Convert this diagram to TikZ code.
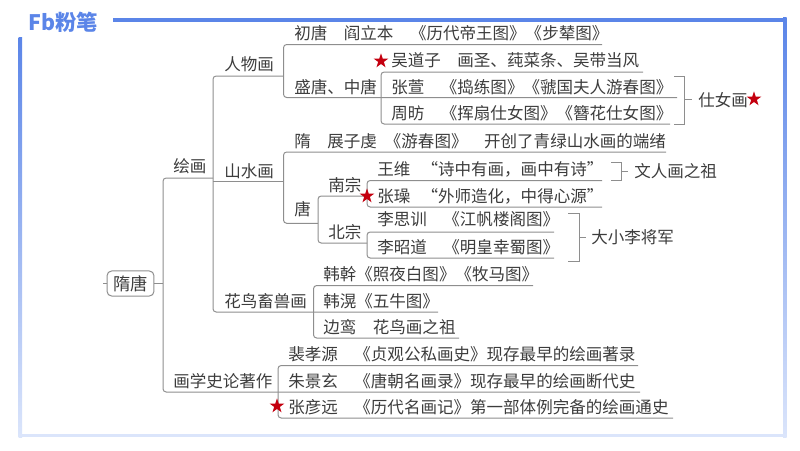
\documentclass[tikz,border=0pt]{standalone}
\usepackage{fontspec}
\setmainfont{Noto Sans CJK SC}
\usetikzlibrary{calc, shapes.geometric}
\definecolor{framecol}{HTML}{5B85E8}
\definecolor{framepale}{HTML}{DBE5FB}
\definecolor{linecol}{HTML}{8E8E8E}
\definecolor{textcol}{HTML}{3C3C3C}
\definecolor{starcol}{HTML}{C4000F}
\tikzset{
  branchline/.style={draw=linecol, line width=0.75pt, rounded corners=2.4pt},
  bracketline/.style={draw=linecol, line width=0.65pt},
  mapword/.style={anchor=west, inner sep=0pt, text=textcol, font=\fontsize{12.4}{12.4}\selectfont, text height=10.9pt, text depth=1.5pt},
  rootbox/.style={draw=linecol, line width=0.75pt, rounded corners=3.5pt, inner sep=0pt, text=textcol, font=\fontsize{13}{13}\selectfont, minimum width=35.2pt, minimum height=18.8pt},
  redstar/.style={star, star points=5, star point ratio=2.6, fill=starcol, inner sep=0pt, minimum size=11.6pt}
}
\newcommand{\spine}[3]{%
  \draw[branchline] (#1) -| (#2) -- (#3);
}
\newcommand{\widecomma}{\char"FF0C\relax}
\begin{document}
\begin{tikzpicture}[x=0.75pt, y=-0.75pt]
            \useasboundingbox (0,0) rectangle (800,450);
            % frame
            \fill[framecol] (113,17.5) rectangle (786,21.5);
            \fill[top color=framecol, bottom color=framepale] (18.5,37) rectangle (22,437);
            \fill[top color=framecol, bottom color=framepale] (783,17.5) rectangle (786.5,437);
            \fill[framepale] (18.5,433.5) rectangle (786.5,437);
            \node[anchor=west, inner sep=0pt, text=framecol, font=\fontsize{16}{16}\selectfont\bfseries] (logo) at (28,22) {Fb粉笔};

            \coordinate (trunkTop) at (213,178);
            \coordinate (trunkCorner) at (163,392);
            \coordinate (trunkEnd) at (640,392);
            \coordinate (paintTop) at (283.5,76);
            \coordinate (paintCorner) at (213,312);
            \coordinate (paintEnd) at (438,312);
            \coordinate (hillStart) at (213,181.5);
            \coordinate (hillEnd) at (283.5,181.5);

            \coordinate (figTop) at (602,44.5);
            \coordinate (figCorner) at (283.5,97.5);
            \coordinate (figEnd) at (677,97.5);
            \coordinate (wuTop) at (643,72);
            \coordinate (wuCorner) at (381,124);
            \coordinate (wuEnd) at (670,124);

            \coordinate (hillTop) at (666,152);
            \coordinate (hillCorner) at (283.5,223.3);
            \coordinate (hillOut) at (318,223.3);
            \coordinate (tangTop) at (367,196);
            \coordinate (tangCorner) at (318,243);
            \coordinate (tangEnd) at (367,243);
            \coordinate (southTop) at (602,180.5);
            \coordinate (southCorner) at (367,207);
            \coordinate (southEnd) at (602,207);
            \coordinate (northTop) at (554,232);
            \coordinate (northCorner) at (367,258);
            \coordinate (northEnd) at (554,258);

            \coordinate (birdTop) at (533,285.5);
            \coordinate (birdCorner) at (313.5,338);
            \coordinate (birdEnd) at (459,338);
            \coordinate (bookTop) at (638,365.5);
            \coordinate (bookCorner) at (278,418);
            \coordinate (bookEnd) at (673,418);

            \spine{trunkTop}{trunkCorner}{trunkEnd}
            \spine{paintTop}{paintCorner}{paintEnd}
            \draw[branchline] (hillStart) -- (hillEnd);
            \spine{figTop}{figCorner}{figEnd}
            \spine{wuTop}{wuCorner}{wuEnd}
            \spine{hillTop}{hillCorner}{hillOut}
            \spine{tangTop}{tangCorner}{tangEnd}
            \spine{southTop}{southCorner}{southEnd}
            \spine{northTop}{northCorner}{northEnd}
            \spine{birdTop}{birdCorner}{birdEnd}
            \spine{bookTop}{bookCorner}{bookEnd}

            % brackets
            \coordinate (ladyA) at (674,76);
            \coordinate (ladyB) at (684,124);
            \coordinate (ladyC) at (674,124);
            \coordinate (ladyD) at (684,99.5);
            \coordinate (ladyE) at (692,99.5);
            \coordinate (poetA) at (611,162);
            \coordinate (poetB) at (621.5,180);
            \coordinate (poetC) at (611,180);
            \coordinate (poetD) at (621.5,171);
            \coordinate (poetE) at (628,171);
            \coordinate (liA) at (568,213);
            \coordinate (liB) at (579,261);
            \coordinate (liC) at (568,261);
            \coordinate (liD) at (579,237);
            \coordinate (liE) at (586,237);
            \draw[bracketline] (ladyA) -| (ladyB) -- (ladyC);
            \draw[bracketline] (ladyD) -- (ladyE);
            \draw[bracketline] (poetA) -| (poetB) -- (poetC);
            \draw[bracketline] (poetD) -- (poetE);
            \draw[bracketline] (liA) -| (liB) -- (liC);
            \draw[bracketline] (liD) -- (liE);

            \node[rootbox, fill=white] (root) at (130.5,283.5) {隋唐};
            \coordinate (rootIn) at (103,283.5);
            \coordinate (rootOut) at (163,283.5);
            \draw[branchline] (rootIn) -- (root);
            \draw[branchline] (root) -- (rootOut);

            \node[mapword] (huihua) at (173,166) {绘画};
            \node[mapword] (renwu) at (224,64) {人物画};
            \node[mapword] (shanshui) at (224,171) {山水画};
            \node[mapword] (huaniao) at (224,301) {花鸟畜兽画};
            \node[mapword] (zhuzuo) at (173,381) {画学史论著作};

            \node[mapword] (chutang) at (294,33) {初唐　阎立本　《历代帝王图》《步辇图》};
            \node[mapword] (shengtang) at (294,87) {盛唐、中唐};
            \node[mapword] (wudaozi) at (391,60) {吴道子　画圣、莼菜条、吴带当风};
            \node[mapword] (zhangxuan) at (391,87) {张萱　《捣练图》《虢国夫人游春图》};
            \node[mapword] (zhoufang) at (391,113) {周昉　《挥扇仕女图》《簪花仕女图》};
            \node[mapword] (shinv) at (698,100) {仕女画};

            \node[mapword] (sui) at (294,141) {隋　展子虔\hspace{6pt}《游春图》　开创了青绿山水画的端绪};
            \node[mapword] (tang) at (294,209) {唐};
            \node[mapword] (nanzong) at (328,185) {南宗};
            \node[mapword] (beizong) at (328,232) {北宗};
            \node[mapword] (wangwei) at (377,169) {王维\hspace{8.4pt}“诗中有画\widecomma 画中有诗”};
            \node[mapword] (zhangzao) at (377,196) {张璪\hspace{8.4pt}“外师造化\widecomma 中得心源”};
            \node[mapword] (lisixun) at (377,219) {李思训　《江帆楼阁图》};
            \node[mapword] (lizhaodao) at (377,247) {李昭道　《明皇幸蜀图》};
            \node[mapword] (wenren) at (634,171) {文人画之祖};
            \node[mapword] (jiangjun) at (591,237) {大小李将军};

            \node[mapword] (hangan) at (323,274) {韩幹《照夜白图》《牧马图》};
            \node[mapword] (hanhuang) at (323,301) {韩滉《五牛图》};
            \node[mapword] (bianluan) at (323,327) {边鸾　花鸟画之祖};

            \node[mapword] (peixiaoyuan) at (288,354) {裴孝源　《贞观公私画史》现存最早的绘画著录};
            \node[mapword] (zhujingxuan) at (288,381) {朱景玄　《唐朝名画录》现存最早的绘画断代史};
            \node[mapword] (zhangyanyuan) at (288,407) {张彦远　《历代名画记》第一部体例完备的绘画通史};

            \node[redstar] (starWu) at (381,61) {};
            \node[redstar] (starLady) at (754,99) {};
            \node[redstar] (starZao) at (367,196) {};
            \node[redstar] (starBook) at (277,406) {};
        \end{tikzpicture}
\end{document}
